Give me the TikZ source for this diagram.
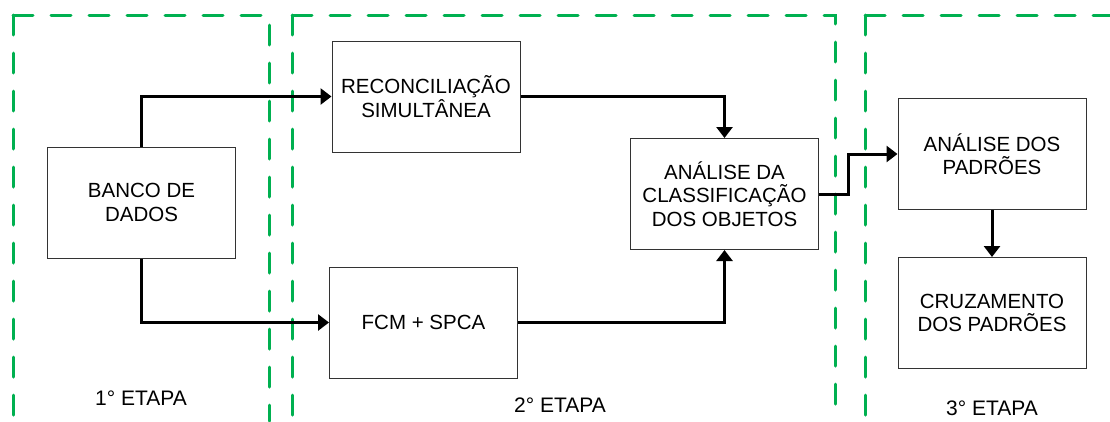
\documentclass[tikz,border=0pt]{standalone}
\usepackage{fontspec}
\setmainfont{Liberation Sans}
\usetikzlibrary{arrows.meta,positioning}
\tikzset{
  block/.style={
    rectangle,
    draw=black!80,
    line width=1pt,
    fill=white,
    align=center,
    minimum width=188pt,
    minimum height=111pt,
    font=\fontsize{20.5}{23.5}\selectfont
  },
  arrow/.style={
    -{Triangle[length=11pt,width=16pt]},
    line width=3pt,
    draw=black
  },
  stage/.style={
    draw={rgb,255:red,0;green,176;blue,80},
    line width=3pt,
    line cap=round,
    dash pattern=on 20pt off 18pt
  },
  stagelabel/.style={
    font=\fontsize{21}{24}\selectfont
  }
}

\begin{document}
\begin{tikzpicture}[x=1pt,y=-1pt]
  \useasboundingbox (0,0) rectangle (1110,421);

  % dashed frames of the three stages, open at the bottom
  \draw[stage] (13,15) -- (13,421);
  \draw[stage] (13,15) -- (269,15) -- (269,421);
  \draw[stage] (292,15) -- (292,421);
  \draw[stage] (292,15) -- (835,15) -- (835,421);
  \draw[stage] (865,15) -- (865,421);
  \draw[stage] (865,15) -- (1110,15);

  \node[block] (banco) at (141.5,202.5) {BANCO DE\\DADOS};
  \node[block] (recon) at (426,96.5) {RECONCILIAÇÃO\\SIMULTÂNEA};
  \node[block] (fcm) at (423.5,322.5) {FCM + SPCA};
  \node[block] (analise) at (724.5,194) {ANÁLISE DA\\CLASSIFICAÇÃO\\DOS OBJETOS};
  \node[block] (padroes) at (992,154) {ANÁLISE DOS\\PADRÕES};
  \node[block] (cruzamento) at (992,313) {CRUZAMENTO\\DOS PADRÕES};

  \node[stagelabel] (etapa1) at (141,398) {1° ETAPA};
  \node[stagelabel] (etapa2) at (560,405) {2° ETAPA};
  \node[stagelabel] (etapa3) at (992,408) {3° ETAPA};

  \coordinate (bend) at ([xshift=29pt]analise.east);

  \draw[arrow] (banco.north) |- (recon.west);
  \draw[arrow] (banco.south) |- (fcm.west);
  \draw[arrow] (recon.east) -| (analise.north);
  \draw[arrow] (fcm.east) -| (analise.south);
  \draw[arrow] (analise.east) -- (bend) |- (padroes.west);
  \draw[arrow] (padroes) -- (cruzamento);
\end{tikzpicture}
\end{document}
